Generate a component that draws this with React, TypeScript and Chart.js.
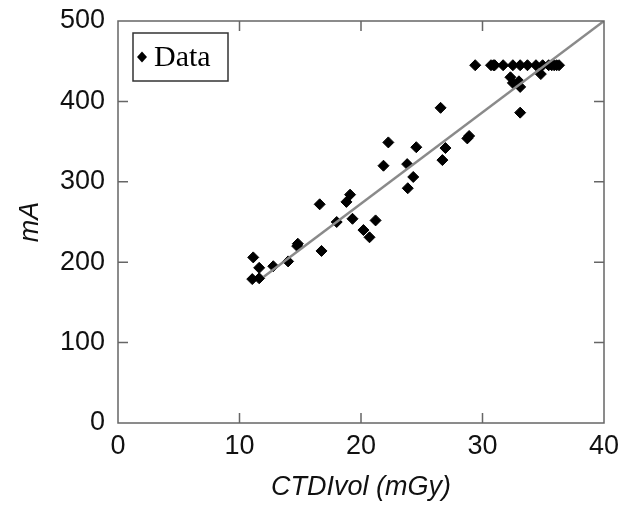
import React, { useEffect, useRef } from "react";
import { Chart, registerables } from "chart.js";

Chart.register(...registerables);

const dataX = [
  11.05, 11.13, 11.62, 11.62, 12.78, 14.0, 14.75, 14.8, 16.6, 16.75, 18.0, 18.8, 19.1, 19.3, 20.2, 20.7, 21.2,
  21.85, 22.25, 23.8, 23.85, 24.3, 24.55, 26.55, 26.7, 26.95, 28.75, 28.9,
  29.4, 30.7, 30.9, 31.0, 31.7, 32.5, 33.1, 33.7, 34.4, 34.95, 35.45, 35.7, 35.9, 36.1, 36.3,
  32.3, 32.5, 33.0, 33.1, 33.1, 34.8,
];
const dataY = [
  179, 206, 193, 180, 195, 201, 220, 223, 272, 214, 250, 275, 284, 254, 240, 231, 252,
  320, 349, 322, 292, 306, 343, 392, 327, 342, 354, 357,
  445, 445, 445, 445, 445, 445, 445, 445, 445, 445, 445, 445, 445, 445, 445,
  430, 423, 425, 418, 386, 434,
];
const fitX = [12, 40];
const fitY = [182, 500];
const xTicks = [0, 10, 20, 30, 40];
const yTicks = [0, 100, 200, 300, 400, 500];
const seriesLabel = "Data";

const framePlugin = {
  id: "frameTicks",
  afterDraw(chart: any) {
    const { ctx, chartArea: a, scales } = chart;
    ctx.save();
    ctx.strokeStyle = "#666";
    ctx.lineWidth = 1.5;
    ctx.strokeRect(a.left, a.top, a.right - a.left, a.bottom - a.top);
    const tl = 10;
    ctx.beginPath();
    xTicks.slice(1, -1).forEach((v) => {
      const px = scales.x.getPixelForValue(v);
      ctx.moveTo(px, a.bottom);
      ctx.lineTo(px, a.bottom - tl);
      ctx.moveTo(px, a.top);
      ctx.lineTo(px, a.top + tl);
    });
    yTicks.slice(1, -1).forEach((v) => {
      const py = scales.y.getPixelForValue(v);
      ctx.moveTo(a.left, py);
      ctx.lineTo(a.left + tl, py);
      ctx.moveTo(a.right, py);
      ctx.lineTo(a.right - tl, py);
    });
    ctx.stroke();

    // legend box
    const bx = a.left + 15;
    const by = a.top + 12;
    const bw = 95;
    const bh = 48;
    ctx.fillStyle = "#fff";
    ctx.fillRect(bx, by, bw, bh);
    ctx.strokeStyle = "#333";
    ctx.lineWidth = 1.5;
    ctx.strokeRect(bx, by, bw, bh);
    const cy = by + bh / 2;
    ctx.fillStyle = "#000";
    ctx.beginPath();
    ctx.moveTo(bx + 9, cy - 5.5);
    ctx.lineTo(bx + 14, cy);
    ctx.lineTo(bx + 9, cy + 5.5);
    ctx.lineTo(bx + 4, cy);
    ctx.closePath();
    ctx.fill();
    ctx.font = '30px "Liberation Serif"';
    ctx.textBaseline = "middle";
    ctx.textAlign = "left";
    ctx.fillText(seriesLabel, bx + 21, cy + 1);
    ctx.restore();
  },
};

export default function App() {
  const ref = useRef<HTMLCanvasElement>(null);
  useEffect(() => {
    const tickFont = { family: '"Liberation Sans", Arial, sans-serif', size: 27 };
    const titleFont = { family: '"Liberation Sans", Arial, sans-serif', size: 27, style: "italic" as const };
    const chart = new Chart(ref.current!, {
      type: "scatter",
      data: {
        datasets: [
          {
            type: "line",
            label: "fit",
            data: fitX.map((x, i) => ({ x, y: fitY[i] })),
            borderColor: "#8a8a8a",
            borderWidth: 2.5,
            pointRadius: 0,
            fill: false,
          },
          {
            label: seriesLabel,
            data: dataX.map((x, i) => ({ x, y: dataY[i] })),
            pointStyle: "rectRot",
            pointRadius: 5.5,
            backgroundColor: "#000",
            borderColor: "#000",
            borderWidth: 1,
          },
        ],
      },
      options: {
        animation: false,
        responsive: true,
        maintainAspectRatio: false,
        layout: { padding: { top: 21, right: 19, left: 0, bottom: 0 } },
        plugins: { legend: { display: false }, tooltip: { enabled: false } },
        scales: {
          x: {
            type: "linear",
            min: 0,
            max: 40,
            afterBuildTicks: (s: any) => {
              s.ticks = xTicks.map((v) => ({ value: v }));
            },
            afterFit: (s: any) => {
              s.height = 83;
              s.paddingLeft = 0;
              s.paddingRight = 0;
              s.paddingTop = 0;
              s.paddingBottom = 0;
            },
            grid: { display: false, drawTicks: false },
            border: { display: false },
            ticks: { font: tickFont, color: "#111", padding: 7, maxRotation: 0 },
            title: { display: true, text: "CTDIvol (mGy)", font: titleFont, color: "#111", padding: { top: 0, bottom: 2 } },
          },
          y: {
            type: "linear",
            min: 0,
            max: 500,
            afterBuildTicks: (s: any) => {
              s.ticks = yTicks.map((v) => ({ value: v }));
            },
            afterFit: (s: any) => {
              s.width = 118;
              s.paddingLeft = 0;
              s.paddingRight = 0;
              s.paddingTop = 0;
              s.paddingBottom = 0;
            },
            grid: { display: false, drawTicks: false },
            border: { display: false },
            ticks: { font: tickFont, color: "#111", padding: 13 },
            title: { display: true, text: "mA", font: titleFont, color: "#111", padding: { top: 14, bottom: 0 } },
          },
        },
      },
      plugins: [framePlugin],
    });
    return () => chart.destroy();
  }, []);
  return (
    <div style={{ position: "fixed", left: 0, top: 0, width: 623, height: 506, background: "#fff" }}>
      <canvas ref={ref} />
    </div>
  );
}
